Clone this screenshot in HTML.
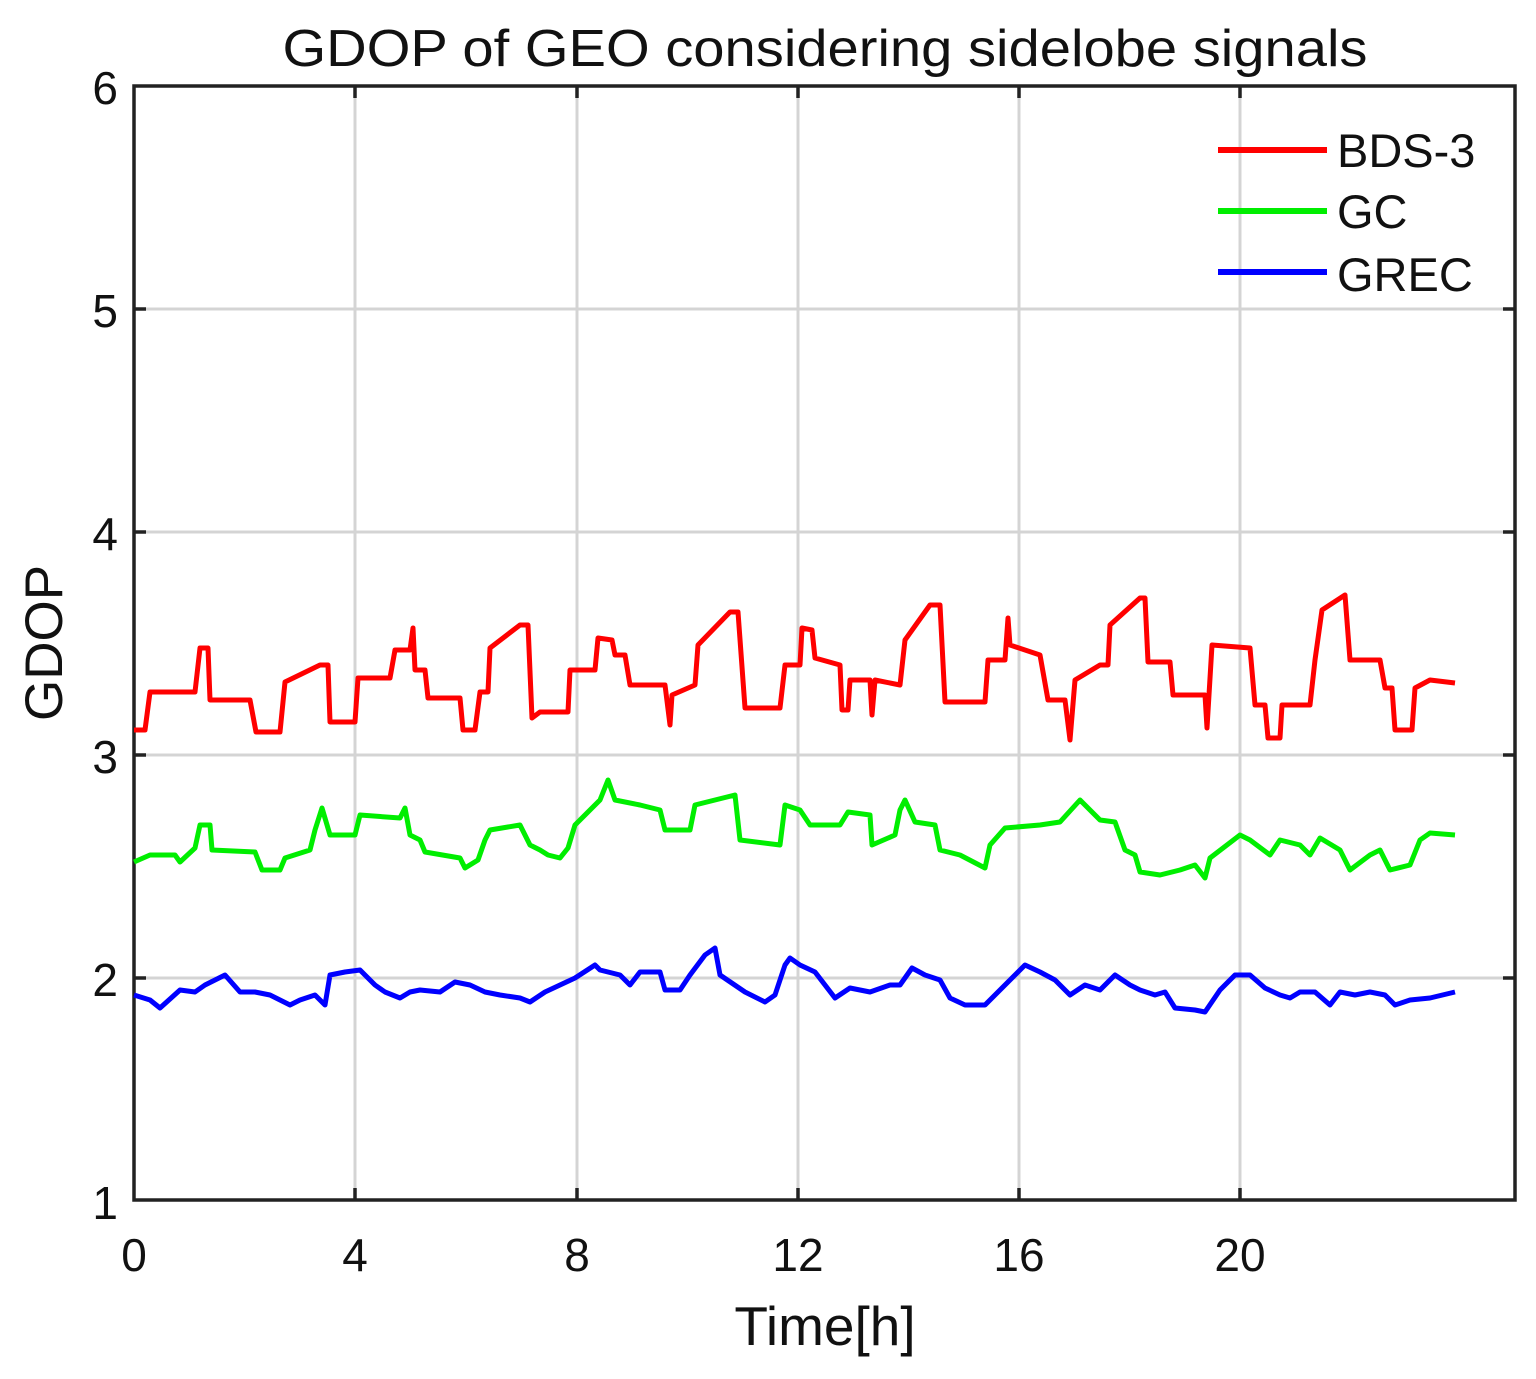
<!DOCTYPE html>
<html><head><style>body{margin:0;background:#fff}svg{display:block}text{font-family:"Liberation Sans",sans-serif;fill:#111}</style></head>
<body>
<svg width="1536" height="1379" viewBox="0 0 1536 1379">
<g stroke="#d4d4d4" stroke-width="3">
<line x1="355" y1="86" x2="355" y2="1200"/><line x1="577" y1="86" x2="577" y2="1200"/><line x1="798" y1="86" x2="798" y2="1200"/><line x1="1019" y1="86" x2="1019" y2="1200"/><line x1="1240" y1="86" x2="1240" y2="1200"/>
<line x1="134" y1="309" x2="1515" y2="309"/><line x1="134" y1="532" x2="1515" y2="532"/><line x1="134" y1="755" x2="1515" y2="755"/><line x1="134" y1="978" x2="1515" y2="978"/>
</g>
<g stroke="#222" stroke-width="3.5">
<rect x="134" y="86" width="1381" height="1114" fill="none"/>
<path d="M355 1200v-12M577 1200v-12M798 1200v-12M1019 1200v-12M1240 1200v-12M355 86v12M577 86v12M798 86v12M1019 86v12M1240 86v12M134 309h12M134 532h12M134 755h12M134 978h12M1515 309h-12M1515 532h-12M1515 755h-12M1515 978h-12"/>
</g>
<g fill="none" stroke-width="5" stroke-linejoin="round">
<polyline stroke="#ff0000" points="134,730 145,730 150,692 195,692 200,648 208,648 210,700 250,700 256,732 280,732 285,682 320,665 328,665 330,722 355,722 358,678 390,678 395,650 410,650 413,628 415,670 425,670 428,698 460,698 463,730 475,730 480,692 488,692 490,648 520,625 528,625 532,718 540,712 568,712 570,670 595,670 598,638 612,640 615,655 625,655 630,685 665,685 670,725 672,695 695,685 698,645 730,612 738,612 745,708 780,708 785,665 800,665 802,628 812,630 815,658 840,665 842,710 848,710 850,680 870,680 872,715 875,680 900,685 905,640 930,605 940,605 945,702 985,702 988,660 1005,660 1008,618 1010,645 1040,655 1048,700 1065,700 1070,740 1075,680 1100,665 1108,665 1110,625 1140,598 1145,598 1148,662 1170,662 1173,695 1205,695 1207,728 1212,645 1250,648 1255,705 1265,705 1268,738 1280,738 1282,705 1310,705 1315,660 1322,610 1345,595 1350,660 1380,660 1385,688 1392,688 1395,730 1412,730 1415,688 1430,680 1455,683"/>
<polyline stroke="#00ee00" points="134,862 150,855 175,855 180,862 195,848 200,825 210,825 212,850 255,852 262,870 280,870 285,858 310,850 315,830 322,808 330,835 355,835 360,815 400,818 405,808 410,835 420,840 425,852 460,858 465,868 478,860 485,840 490,830 520,825 530,845 540,850 548,855 560,858 568,848 575,825 600,800 608,780 615,800 640,805 660,810 665,830 690,830 695,805 735,795 740,840 780,845 785,805 800,810 810,825 840,825 848,812 870,815 872,845 895,835 900,810 905,800 915,822 935,825 940,850 960,855 985,868 990,845 1005,828 1040,825 1060,822 1080,800 1100,820 1115,822 1125,850 1135,855 1140,872 1160,875 1180,870 1195,865 1205,878 1210,858 1240,835 1250,840 1270,855 1280,840 1300,845 1310,855 1320,838 1340,850 1350,870 1370,855 1380,850 1390,870 1410,865 1420,840 1430,833 1455,835"/>
<polyline stroke="#0000ff" points="134,995 150,1000 160,1008 180,990 195,992 205,985 225,975 240,992 255,992 270,995 290,1005 300,1000 315,995 325,1005 330,975 345,972 360,970 375,985 385,992 400,998 410,992 420,990 440,992 455,982 470,985 485,992 500,995 520,998 530,1002 545,992 560,985 575,978 595,965 600,970 620,975 630,985 640,972 660,972 665,990 680,990 690,975 705,955 715,948 720,975 745,992 765,1002 775,995 785,965 790,958 800,965 815,972 825,985 835,998 850,988 870,992 890,985 900,985 912,968 925,975 940,980 950,998 965,1005 985,1005 1000,990 1015,975 1025,965 1040,972 1055,980 1070,995 1085,985 1100,990 1115,975 1130,985 1140,990 1155,995 1165,992 1175,1008 1195,1010 1205,1012 1220,990 1235,975 1250,975 1265,988 1280,995 1290,998 1300,992 1315,992 1330,1005 1340,992 1355,995 1370,992 1385,995 1395,1005 1410,1000 1430,998 1455,992"/>
</g>
<g stroke-width="6"><line x1="1218" y1="150" x2="1327" y2="150" stroke="#ff0000"/><line x1="1218" y1="211" x2="1327" y2="211" stroke="#00ee00"/><line x1="1218" y1="272" x2="1327" y2="272" stroke="#0000ff"/></g>
<g font-size="47"><text x="1337" y="167">BDS-3</text><text x="1337" y="228">GC</text><text x="1337" y="291">GREC</text></g>
<text x="825" y="66" font-size="52" text-anchor="middle" textLength="1085" lengthAdjust="spacingAndGlyphs">GDOP of GEO considering sidelobe signals</text>
<g font-size="46" text-anchor="end"><text x="118" y="104">6</text><text x="118" y="327">5</text><text x="118" y="550">4</text><text x="118" y="773">3</text><text x="118" y="996">2</text><text x="118" y="1219">1</text></g>
<g font-size="46" text-anchor="middle"><text x="134" y="1271">0</text><text x="355" y="1271">4</text><text x="577" y="1271">8</text><text x="798" y="1271">12</text><text x="1019" y="1271">16</text><text x="1240" y="1271">20</text></g>
<text x="825" y="1345" font-size="55" text-anchor="middle">Time[h]</text>
<text transform="translate(62,643) rotate(-90)" font-size="53" text-anchor="middle">GDOP</text>
</svg>
</body></html>
